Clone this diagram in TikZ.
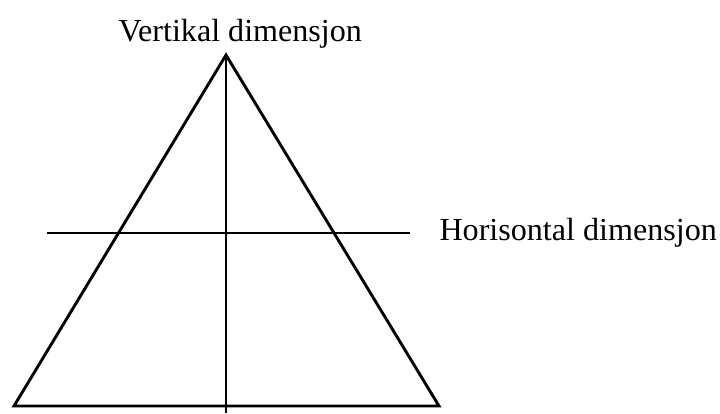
\documentclass[tikz,border=0pt]{standalone}
\usepackage{fontspec}
\setmainfont{Liberation Serif}
\usetikzlibrary{positioning}
\tikzset{
  every picture/.style={font=\fontsize{12.2}{14}\selectfont},
  tri/.style={draw=black, line width=1.1pt, line join=miter},
  axis/.style={draw=black, line width=0.45pt},
  label/.style={anchor=base west, inner sep=0pt},
}

\begin{document}
\begin{tikzpicture}[x=0.38pt, y=0.38pt]
  \useasboundingbox (0,0) rectangle (720,413);

  % ---- triangle
  \coordinate (top) at (226,358);
  \coordinate (bl)  at (14,7);
  \coordinate (br)  at (439,7);
  \draw[tri] (top) -- (bl) -- (br) -- cycle;

  % ---- dimensions
  \coordinate (vbot) at (226,0);
  \coordinate (hl)   at (47,180);
  \coordinate (hr)   at (410,180);
  \draw[axis] (top) -- (vbot);
  \draw[axis] (hl) -- (hr);

  \node[label] (vert) at (118,372) {Vertikal dimensjon};
  \node[label] (hori) at (439,173) {Horisontal dimensjon};
\end{tikzpicture}
\end{document}
